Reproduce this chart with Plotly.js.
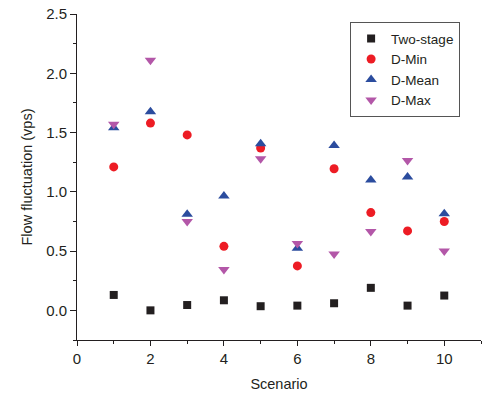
<!DOCTYPE html>
<html><head><meta charset="utf-8">
<script src="https://cdn.plot.ly/plotly-3.0.1.min.js"></script>
<style>body{margin:0;background:#fff}#c{width:484px;height:396px}</style>
</head><body><div id="c"></div>
<script>
const scenarios = [1,2,3,4,5,6,7,8,9,10];
const twoStage = [0.13,0.00,0.045,0.085,0.035,0.04,0.06,0.19,0.04,0.125];
const dMin = [1.21,1.58,1.48,0.54,1.37,0.375,1.195,0.825,0.67,0.75];
const dMean = [1.54,1.675,0.81,0.965,1.405,0.525,1.39,1.10,1.125,0.815];
const dMax = [1.57,2.11,0.75,0.345,1.28,0.565,0.475,0.665,1.265,0.50];
const names = ["Two-stage","D-Min","D-Mean","D-Max"];

const font = "Liberation Sans, Arial, sans-serif";
const ink = "#231f20";
const mk = [
  {symbol:"square", color:"#231f20", size:8},
  {symbol:"circle", color:"#ed1c24", size:9},
  {symbol:"triangle-up", color:"#2b4c9e", size:10},
  {symbol:"triangle-down", color:"#b357a8", size:10}
];
const series = [twoStage,dMin,dMean,dMax];
const data = series.map((ys,i)=>({
  x: scenarios, y: ys, name: names[i], type:"scatter", mode:"markers",
  marker:{symbol:mk[i].symbol, color:mk[i].color, size:mk[i].size}
}));
const axBase = {
  showgrid:false, zeroline:false, showline:true, linecolor:ink, linewidth:1,
  ticks:"outside", ticklen:6, tickcolor:ink, tickwidth:1,
  tickfont:{family:font,size:15,color:ink}
};
const layout = {
  width:484, height:396, paper_bgcolor:"#fff", plot_bgcolor:"#fff",
  margin:{l:77,r:3,t:14,b:56},
  showlegend:true,
  legend:{x:0.676,y:0.975,xanchor:"left",yanchor:"top",
    bordercolor:"#555",borderwidth:1,bgcolor:"#fff",
    font:{family:font,size:13.5,color:ink},tracegroupgap:0},
  xaxis:Object.assign({},axBase,{range:[0,11],dtick:2,tick0:0,ticklen:5,
    minor:{dtick:1,ticks:"outside",ticklen:3,tickcolor:ink},
    title:{text:"Scenario",font:{family:font,size:14.5,color:ink},standoff:12}}),
  yaxis:Object.assign({},axBase,{range:[-0.25,2.5],dtick:0.5,tick0:0,tickformat:".1f",
    minor:{dtick:0.25,ticks:"outside",ticklen:3,tickcolor:ink},
    title:{text:"Flow fluctuation (vps)",font:{family:font,size:14.5,color:ink},standoff:10}})
};
Plotly.newPlot("c",data,layout,{displayModeBar:false,staticPlot:true});
</script></body></html>
